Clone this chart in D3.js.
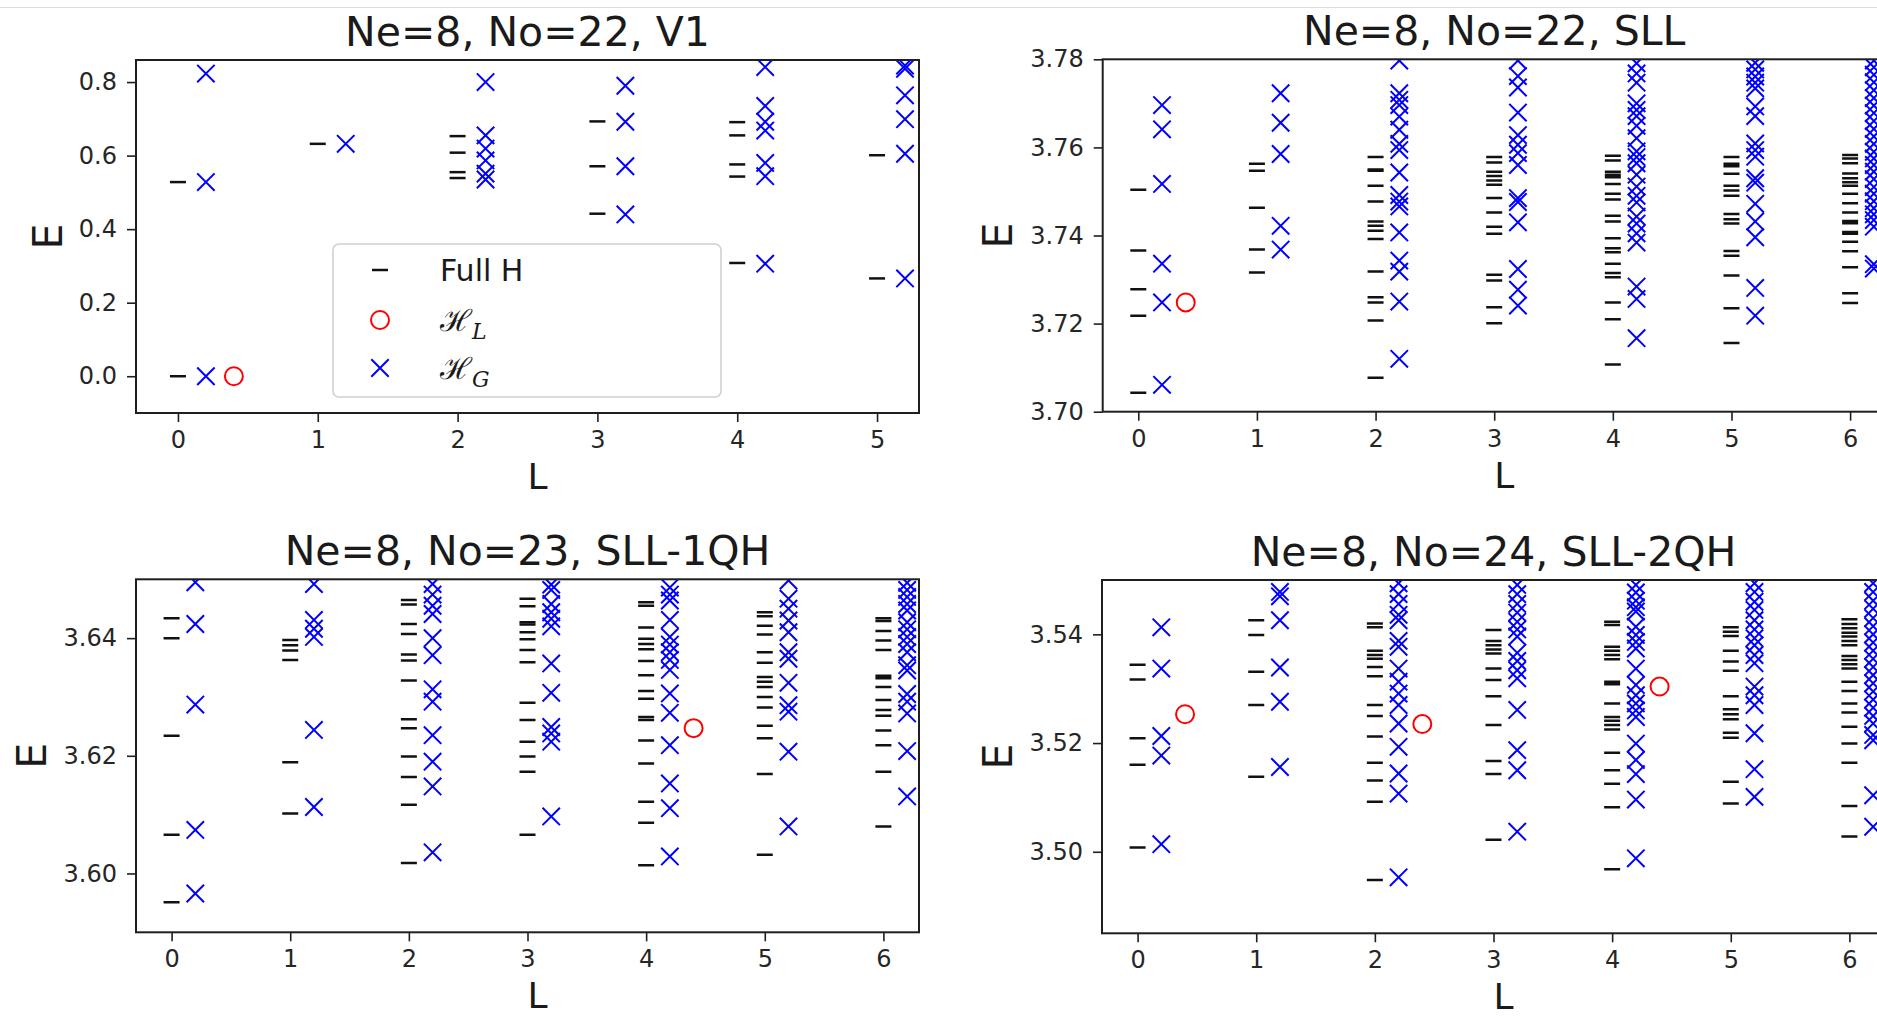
<!DOCTYPE html>
<html>
<head>
<meta charset="utf-8">
<script src="https://cdn.jsdelivr.net/npm/d3@7"></script>
<style>
  html, body { margin: 0; padding: 0; background: #fff; overflow: hidden; }
  svg { display: block; }
</style>
</head>
<body>
<script>
// ---------- data: energy levels per angular momentum L (index = L) ----------

// Ne=8, No=22, V1
const v1Title = "Ne=8, No=22, V1";
const v1FullH = [
  [0.0, 0.528],
  [0.632],
  [0.539, 0.555, 0.608, 0.653],
  [0.442, 0.571, 0.693],
  [0.308, 0.543, 0.576, 0.655, 0.691],
  [0.266, 0.601]
];
const v1Gap = [
  [0.0, 0.528, 0.823],
  [0.632],
  [0.535, 0.551, 0.587, 0.619, 0.655, 0.800],
  [0.440, 0.571, 0.692, 0.790],
  [0.306, 0.544, 0.580, 0.668, 0.692, 0.735, 0.841],
  [0.266, 0.605, 0.699, 0.764, 0.836, 0.845]
];
const v1Local = [[0, 0.0]];
const v1YTicks = [0.0, 0.2, 0.4, 0.6, 0.8];
const v1XTicks = [0, 1, 2, 3, 4, 5];

// Ne=8, No=22, SLL
const sllTitle = "Ne=8, No=22, SLL";
const sllFullH = [
  [3.7043, 3.7218, 3.7278, 3.7366, 3.7504],
  [3.7316, 3.7368, 3.7463, 3.7547, 3.7563],
  [3.7077, 3.7207, 3.7248, 3.7260, 3.7318, 3.7392, 3.7411, 3.7422, 3.7432, 3.7477, 3.7513, 3.7547, 3.7550, 3.7578],
  [3.7201, 3.7237, 3.7298, 3.7311, 3.7404, 3.7420, 3.7452, 3.7485, 3.7515, 3.7525, 3.7535, 3.7545, 3.7566, 3.7578],
  [3.7107, 3.7210, 3.7248, 3.7305, 3.7315, 3.7336, 3.7362, 3.7371, 3.7394, 3.7432, 3.7445, 3.7482, 3.7495, 3.7517, 3.7532, 3.7538, 3.7545, 3.7570, 3.7581],
  [3.7156, 3.7235, 3.7309, 3.7354, 3.7365, 3.7427, 3.7437, 3.7449, 3.7490, 3.7502, 3.7513, 3.7540, 3.7557, 3.7563, 3.7578],
  [3.7247, 3.7269, 3.7328, 3.7364, 3.7386, 3.7404, 3.7408, 3.7428, 3.7433, 3.7452, 3.7473, 3.7495, 3.7513, 3.7521, 3.7530, 3.7541, 3.7564, 3.7575, 3.7583]
];
const sllGap = [
  [3.7061, 3.7248, 3.7336, 3.7517, 3.7641, 3.7696],
  [3.7368, 3.7422, 3.7585, 3.7656, 3.7723],
  [3.7120, 3.7250, 3.7318, 3.7343, 3.7407, 3.7466, 3.7477, 3.7492, 3.7543, 3.7594, 3.7608, 3.7640, 3.7670, 3.7696, 3.7708, 3.7723, 3.7797],
  [3.7241, 3.7277, 3.7324, 3.7430, 3.7476, 3.7485, 3.7560, 3.7587, 3.7606, 3.7628, 3.7679, 3.7736, 3.7762, 3.7797],
  [3.7167, 3.7256, 3.7284, 3.7384, 3.7405, 3.7427, 3.7443, 3.7475, 3.7490, 3.7511, 3.7538, 3.7564, 3.7578, 3.7591, 3.7621, 3.7649, 3.7671, 3.7685, 3.7700, 3.7747, 3.7768, 3.7791],
  [3.7218, 3.7281, 3.7396, 3.7432, 3.7472, 3.7520, 3.7530, 3.7579, 3.7594, 3.7609, 3.7671, 3.7693, 3.7734, 3.7747, 3.7761, 3.7777, 3.7792],
  [3.7325, 3.7335, 3.7420, 3.7435, 3.7448, 3.7462, 3.7478, 3.7495, 3.7510, 3.7528, 3.7545, 3.7560, 3.7575, 3.7590, 3.7608, 3.7625, 3.7642, 3.7660, 3.7678, 3.7695, 3.7712, 3.7730, 3.7748, 3.7765, 3.7782, 3.7797]
];
const sllLocal = [[0, 3.7248]];
const sllYTicks = [3.70, 3.72, 3.74, 3.76, 3.78];

// Ne=8, No=23, SLL-1QH
const qh1Title = "Ne=8, No=23, SLL-1QH";
const qh1FullH = [
  [3.5951, 3.6066, 3.6234, 3.6400, 3.6434],
  [3.6102, 3.6189, 3.6363, 3.6379, 3.6388, 3.6397],
  [3.6018, 3.6117, 3.6164, 3.6199, 3.6247, 3.6262, 3.6328, 3.6362, 3.6372, 3.6407, 3.6424, 3.6457, 3.6465],
  [3.6066, 3.6173, 3.6199, 3.6224, 3.6261, 3.6290, 3.6359, 3.6380, 3.6398, 3.6410, 3.6423, 3.6427, 3.6454, 3.6467],
  [3.6014, 3.6086, 3.6122, 3.6187, 3.6226, 3.6261, 3.6266, 3.6297, 3.6310, 3.6337, 3.6361, 3.6381, 3.6390, 3.6399, 3.6418, 3.6455, 3.6461],
  [3.6032, 3.6169, 3.6230, 3.6251, 3.6282, 3.6300, 3.6317, 3.6326, 3.6334, 3.6358, 3.6376, 3.6406, 3.6421, 3.6437, 3.6444],
  [3.6080, 3.6173, 3.6218, 3.6243, 3.6268, 3.6278, 3.6295, 3.6317, 3.6332, 3.6336, 3.6380, 3.6396, 3.6412, 3.6429, 3.6434]
];
const qh1Gap = [
  [3.5966, 3.6074, 3.6287, 3.6424, 3.6495],
  [3.6113, 3.6244, 3.6402, 3.6416, 3.6431, 3.6492],
  [3.6036, 3.6148, 3.6190, 3.6235, 3.6292, 3.6313, 3.6371, 3.6400, 3.6441, 3.6455, 3.6474, 3.6492],
  [3.6097, 3.6224, 3.6238, 3.6249, 3.6307, 3.6357, 3.6420, 3.6433, 3.6444, 3.6458, 3.6482, 3.6491],
  [3.6029, 3.6111, 3.6153, 3.6218, 3.6273, 3.6306, 3.6346, 3.6363, 3.6376, 3.6389, 3.6402, 3.6431, 3.6464, 3.6474, 3.6486],
  [3.6080, 3.6207, 3.6275, 3.6286, 3.6324, 3.6365, 3.6376, 3.6410, 3.6430, 3.6450, 3.6467, 3.6498],
  [3.6131, 3.6208, 3.6272, 3.6292, 3.6305, 3.6345, 3.6354, 3.6376, 3.6390, 3.6402, 3.6415, 3.6427, 3.6447, 3.6458, 3.6470, 3.6482, 3.6494]
];
const qh1Local = [[4, 3.6247]];
const qh1YTicks = [3.60, 3.62, 3.64];

// Ne=8, No=24, SLL-2QH
const qh2Title = "Ne=8, No=24, SLL-2QH";
const qh2FullH = [
  [3.5008, 3.5160, 3.5209, 3.5317, 3.5344],
  [3.5138, 3.5270, 3.5331, 3.5399, 3.5426],
  [3.4948, 3.5092, 3.5131, 3.5164, 3.5212, 3.5250, 3.5270, 3.5323, 3.5340, 3.5355, 3.5362, 3.5370, 3.5413, 3.5420],
  [3.5022, 3.5143, 3.5167, 3.5233, 3.5286, 3.5316, 3.5337, 3.5365, 3.5372, 3.5380, 3.5388, 3.5408],
  [3.4968, 3.5082, 3.5125, 3.5150, 3.5182, 3.5225, 3.5233, 3.5241, 3.5248, 3.5273, 3.5308, 3.5313, 3.5354, 3.5362, 3.5370, 3.5377, 3.5417, 3.5423],
  [3.5089, 3.5129, 3.5210, 3.5219, 3.5244, 3.5253, 3.5262, 3.5286, 3.5333, 3.5350, 3.5370, 3.5397, 3.5405, 3.5413],
  [3.5028, 3.5084, 3.5164, 3.5199, 3.5230, 3.5256, 3.5273, 3.5296, 3.5313, 3.5337, 3.5345, 3.5353, 3.5360, 3.5380, 3.5388, 3.5396, 3.5403, 3.5411, 3.5419, 3.5428]
];
const qh2Gap = [
  [3.5014, 3.5177, 3.5213, 3.5337, 3.5413],
  [3.5156, 3.5276, 3.5339, 3.5426, 3.5470, 3.5478],
  [3.4953, 3.5107, 3.5144, 3.5193, 3.5236, 3.5270, 3.5291, 3.5313, 3.5337, 3.5377, 3.5388, 3.5426, 3.5436, 3.5456, 3.5474, 3.5494],
  [3.5037, 3.5150, 3.5187, 3.5261, 3.5319, 3.5334, 3.5351, 3.5366, 3.5396, 3.5409, 3.5423, 3.5440, 3.5456, 3.5474, 3.5491],
  [3.4988, 3.5096, 3.5143, 3.5169, 3.5199, 3.5248, 3.5260, 3.5273, 3.5288, 3.5307, 3.5337, 3.5374, 3.5386, 3.5399, 3.5414, 3.5442, 3.5450, 3.5462, 3.5477, 3.5491],
  [3.5101, 3.5152, 3.5218, 3.5270, 3.5288, 3.5304, 3.5347, 3.5362, 3.5380, 3.5393, 3.5409, 3.5426, 3.5445, 3.5460, 3.5478, 3.5494],
  [3.5046, 3.5104, 3.5205, 3.5215, 3.5236, 3.5250, 3.5265, 3.5280, 3.5295, 3.5310, 3.5325, 3.5340, 3.5355, 3.5370, 3.5385, 3.5400, 3.5415, 3.5430, 3.5447, 3.5462, 3.5478, 3.5494]
];
const qh2Local = [[0, 3.5253], [2, 3.5235], [4, 3.5304]];
const qh2YTicks = [3.50, 3.52, 3.54];

const lTicks = [0, 1, 2, 3, 4, 5, 6];
const legendLabels = ["Full H", "ℋ", "ℋ"];
const legendSubs = ["", "L", "G"];

// ---------- drawing ----------
const W = 1877, H = 1017;
const FONT = "'DejaVu Sans', sans-serif";
const INK = "#1f1f1f";

const svg = d3.select("body").append("svg")
  .attr("width", W).attr("height", H)
  .attr("viewBox", `0 0 ${W} ${H}`);

svg.append("rect").attr("width", W).attr("height", H).attr("fill", "#fff");
svg.append("line")
  .attr("x1", 0).attr("x2", W).attr("y1", 7.5).attr("y2", 7.5)
  .attr("stroke", "#dcdcdc").attr("stroke-width", 1);

const crossPath = "M-8.7,-8.7L8.7,8.7M-8.7,8.7L8.7,-8.7";

function drawPanel(cfg, idx) {
  const { box, xlim, ylim, yticks, yfmt, xticks, title, fullH, gap, local, yLabelX } = cfg;
  const x = d3.scaleLinear().domain(xlim).range([box.x0, box.x1]);
  const y = d3.scaleLinear().domain(ylim).range([box.y1, box.y0]);
  const g = svg.append("g");

  const clipId = "clip" + idx;
  g.append("clipPath").attr("id", clipId).append("rect")
    .attr("x", box.x0).attr("y", box.y0)
    .attr("width", box.x1 - box.x0).attr("height", box.y1 - box.y0);

  const plot = g.append("g").attr("clip-path", `url(#${clipId})`);

  // Full Hamiltonian levels: short horizontal dashes at L
  const dashData = fullH.flatMap((es, L) => es.map(e => ({ L, e })));
  plot.selectAll("line.fullh").data(dashData).join("line")
    .attr("class", "fullh")
    .attr("x1", d => x(d.L) - 8).attr("x2", d => x(d.L) + 8)
    .attr("y1", d => y(d.e)).attr("y2", d => y(d.e))
    .attr("stroke", "#111").attr("stroke-width", 2.5);

  // H_G levels: blue crosses at L + 0.2
  const gapData = gap.flatMap((es, L) => es.map(e => ({ L, e })));
  plot.selectAll("path.hg").data(gapData).join("path")
    .attr("class", "hg")
    .attr("d", crossPath)
    .attr("transform", d => `translate(${x(d.L + 0.2)},${y(d.e)})`)
    .attr("fill", "none").attr("stroke", "#0000ff").attr("stroke-width", 2);

  // H_L levels: red open circles at L + 0.4
  plot.selectAll("circle.hl").data(local).join("circle")
    .attr("class", "hl")
    .attr("cx", d => x(d[0] + 0.4)).attr("cy", d => y(d[1]))
    .attr("r", 9)
    .attr("fill", "none").attr("stroke", "#ff0000").attr("stroke-width", 2);

  // axes
  const yAxis = d3.axisLeft(y).tickValues(yticks).tickFormat(d3.format(yfmt))
    .tickSize(9).tickPadding(10);
  const xAxis = d3.axisBottom(x).tickValues(xticks).tickFormat(d3.format("d"))
    .tickSize(9).tickPadding(9);

  const ya = g.append("g").attr("transform", `translate(${box.x0},0)`).call(yAxis);
  const xa = g.append("g").attr("transform", `translate(0,${box.y1})`).call(xAxis);
  [ya, xa].forEach(a => {
    a.select(".domain").remove();
    a.selectAll(".tick line").attr("stroke", INK).attr("stroke-width", 1.6);
    a.selectAll(".tick text")
      .attr("fill", "#262626")
      .style("font-family", FONT).style("font-size", "24px");
  });

  // frame
  g.append("rect")
    .attr("x", box.x0).attr("y", box.y0)
    .attr("width", box.x1 - box.x0).attr("height", box.y1 - box.y0)
    .attr("fill", "none").attr("stroke", INK).attr("stroke-width", 2);

  const cx = (box.x0 + box.x1) / 2;
  g.append("text")
    .attr("x", cx).attr("y", box.y0 - 14)
    .attr("text-anchor", "middle")
    .attr("fill", "#1a1a1a")
    .style("font-family", FONT).style("font-size", "41px")
    .text(title);

  g.append("text")
    .attr("x", cx + 10).attr("y", box.y1 + 76)
    .attr("text-anchor", "middle")
    .attr("fill", "#1a1a1a")
    .style("font-family", FONT).style("font-size", "36px")
    .text("L");

  g.append("text")
    .attr("transform", `translate(${yLabelX},${(box.y0 + box.y1) / 2}) rotate(-90)`)
    .attr("text-anchor", "middle")
    .attr("fill", "#1a1a1a")
    .style("font-family", FONT).style("font-size", "41px")
    .text("E");

  return { g, x, y };
}

const panels = [
  { box: { x0: 136, x1: 919, y0: 60, y1: 413 }, xlim: [-0.3, 5.3], ylim: [-0.1, 0.86],
    yticks: v1YTicks, yfmt: ".1f", xticks: v1XTicks, title: v1Title,
    fullH: v1FullH, gap: v1Gap, local: v1Local, yLabelX: 62 },
  { box: { x0: 1102.7, x1: 1885.7, y0: 59.3, y1: 411.7 }, xlim: [-0.3, 6.3], ylim: [3.70, 3.78],
    yticks: sllYTicks, yfmt: ".2f", xticks: lTicks, title: sllTitle,
    fullH: sllFullH, gap: sllGap, local: sllLocal, yLabelX: 1012 },
  { box: { x0: 136, x1: 919, y0: 579.3, y1: 932.3 }, xlim: [-0.3, 6.3], ylim: [3.59, 3.65],
    yticks: qh1YTicks, yfmt: ".2f", xticks: lTicks, title: qh1Title,
    fullH: qh1FullH, gap: qh1Gap, local: qh1Local, yLabelX: 46 },
  { box: { x0: 1102, x1: 1885, y0: 580, y1: 933.3 }, xlim: [-0.3, 6.3], ylim: [3.485, 3.55],
    yticks: qh2YTicks, yfmt: ".2f", xticks: lTicks, title: qh2Title,
    fullH: qh2FullH, gap: qh2Gap, local: qh2Local, yLabelX: 1012 }
];

panels.forEach((p, i) => drawPanel(p, i));

// legend in the first panel
const lg = svg.append("g");
lg.append("rect")
  .attr("x", 333).attr("y", 244).attr("width", 388).attr("height", 153)
  .attr("rx", 6).attr("ry", 6)
  .attr("fill", "#fff").attr("fill-opacity", 0.8)
  .attr("stroke", "#d0d0d0").attr("stroke-width", 1.6);

const rowY = [270, 320, 368];
lg.append("line")
  .attr("x1", 372).attr("x2", 388).attr("y1", rowY[0]).attr("y2", rowY[0])
  .attr("stroke", "#111").attr("stroke-width", 2.5);
lg.append("circle")
  .attr("cx", 380).attr("cy", rowY[1]).attr("r", 9)
  .attr("fill", "none").attr("stroke", "#ff0000").attr("stroke-width", 2);
lg.append("path")
  .attr("d", crossPath).attr("transform", `translate(380,${rowY[2]})`)
  .attr("fill", "none").attr("stroke", "#0000ff").attr("stroke-width", 2);

legendLabels.forEach((lab, i) => {
  const t = lg.append("text")
    .attr("x", 440).attr("y", rowY[i] + 11)
    .attr("fill", "#1a1a1a")
    .style("font-family", i === 0 ? FONT : "'DejaVu Serif', serif")
    .style("font-size", "30px");
  t.append("tspan").text(lab);
  if (legendSubs[i]) {
    t.append("tspan")
      .attr("dy", 8)
      .style("font-size", "22px")
      .style("font-style", "italic")
      .text(legendSubs[i]);
  }
});
</script>
</body>
</html>
